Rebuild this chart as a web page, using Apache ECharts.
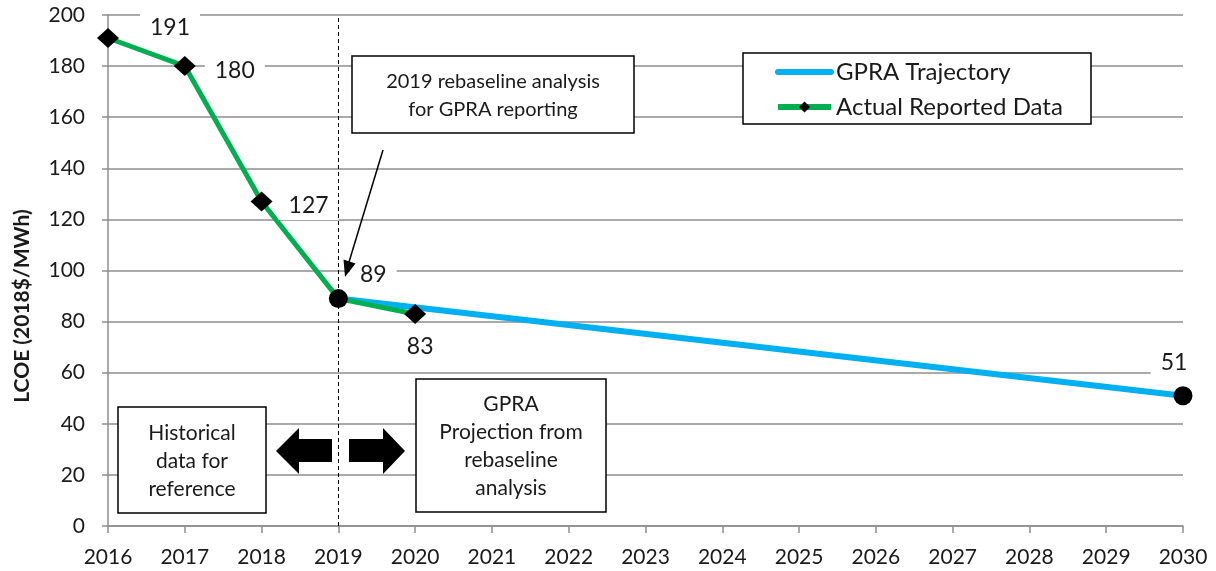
<!DOCTYPE html>
<html>
<head>
<meta charset="utf-8">
<script src="https://cdn.jsdelivr.net/npm/echarts@6/dist/echarts.min.js"></script>
<style>
    html, body { margin: 0; padding: 0; background: #fff; }
    #chart { width: 1216px; height: 571px; }
</style>
</head>
<body>
<div id="chart"></div>
<script>
// values
var actualYears = [2016, 2017, 2018, 2019, 2020];
var actualValues = [191, 180, 127, 89, 83];
var gpraYears = [2019, 2030];
var gpraValues = [89, 51];
var yTicks = [0, 20, 40, 60, 80, 100, 120, 140, 160, 180, 200];
var xTicks = [2016, 2017, 2018, 2019, 2020, 2021, 2022, 2023, 2024, 2025, 2026, 2027, 2028, 2029, 2030];
var rebaselineYear = 2019;

// where each value label sits next to its marker (pixels)
var actualLabelOffsets = [[62, -10], [50, 4], [47, 4], null, [5, 33]];
var gpraLabelOffsets = [[35, -24], [-9, -33]];

var FONT = 'Lato';
var TXT = '#1a1a1a';
var GRID = '#8e8e8e';

var myChart = echarts.init(document.getElementById('chart'));

function valueLabel(off) {
    return {
        show: true,
        position: 'inside',
        offset: off,
        fontFamily: FONT,
        fontSize: 23,
        color: TXT,
        backgroundColor: '#fff',
        padding: [3, 10, 3, 10],
        formatter: function (p) { return p.value[1]; }
    };
}

var actualData = actualYears.map(function (y, i) {
    var item = { value: [y, actualValues[i]] };
    if (y === rebaselineYear) {
        item.symbol = 'none';
    } else {
        item.label = valueLabel(actualLabelOffsets[i]);
    }
    return item;
});

var gpraData = gpraYears.map(function (y, i) {
    return { value: [y, gpraValues[i]] };
});

var circleData = gpraYears.map(function (y, i) {
    return { value: [y, gpraValues[i]], label: valueLabel(gpraLabelOffsets[i]) };
});

function box(x, y, w, h) {
    return {
        type: 'rect',
        shape: { x: x, y: y, width: w, height: h },
        style: { fill: '#fff', stroke: '#000', lineWidth: 1.5 },
        z: 100
    };
}

function boxText(x, y, txt, size) {
    return {
        type: 'text',
        x: x, y: y,
        style: {
            text: txt,
            fontFamily: FONT,
            fontSize: size,
            lineHeight: 28,
            fill: TXT,
            align: 'center',
            verticalAlign: 'middle'
        },
        z: 101
    };
}

var option = {
    animation: false,
    backgroundColor: '#fff',
    grid: { left: 108, right: 33, top: 15, bottom: 45 },
    xAxis: {
        type: 'value',
        min: xTicks[0],
        max: xTicks[xTicks.length - 1],
        interval: 1,
        axisLine: { show: true, lineStyle: { color: GRID, width: 1.5 } },
        axisTick: { show: true, length: 7, lineStyle: { color: GRID, width: 1.5 } },
        splitLine: { show: false },
        axisLabel: {
            margin: 21,
            fontFamily: FONT,
            fontSize: 21,
            color: TXT,
            formatter: function (v) { return String(v); }
        }
    },
    yAxis: {
        type: 'value',
        min: yTicks[0],
        max: yTicks[yTicks.length - 1],
        interval: 20,
        axisLine: { show: true, lineStyle: { color: GRID, width: 1.5 } },
        axisTick: { show: true, length: 6, lineStyle: { color: GRID, width: 1.5 } },
        splitLine: { show: true, lineStyle: { color: GRID, width: 1.5 } },
        axisLabel: {
            margin: 23,
            fontFamily: FONT,
            fontSize: 21,
            color: TXT
        }
    },
    legend: {
        left: 775,
        top: 58,
        padding: 0,
        orient: 'vertical',
        itemWidth: 53,
        itemHeight: 14,
        itemGap: 7,
        z: 102,
        textStyle: { fontFamily: FONT, fontSize: 24, color: TXT, lineHeight: 28 },
        data: [
            { name: 'GPRA Trajectory', itemStyle: { opacity: 0 }, lineStyle: { width: 6 } },
            { name: 'Actual Reported Data', lineStyle: { width: 6 } }
        ]
    },
    series: [
        {
            name: 'GPRA Trajectory',
            type: 'line',
            z: 2,
            symbol: 'none',
            lineStyle: { color: '#00b0f0', width: 6, cap: 'round' },
            itemStyle: { color: '#00b0f0' },
            data: gpraData,
            markLine: {
                silent: true,
                symbol: 'none',
                label: { show: false },
                lineStyle: { color: '#000', type: [4, 3], width: 1 },
                data: [{ xAxis: rebaselineYear }]
            }
        },
        {
            name: 'Actual Reported Data',
            type: 'line',
            z: 3,
            symbol: 'diamond',
            symbolSize: [22, 20],
            lineStyle: { color: '#00b050', width: 5 },
            itemStyle: { color: '#000' },
            data: actualData
        },
        {
            name: 'points',
            type: 'scatter',
            z: 4,
            symbol: 'circle',
            symbolSize: 19,
            itemStyle: { color: '#000', opacity: 1 },
            data: circleData
        }
    ],
    graphic: [
        // y axis title
        {
            type: 'text',
            x: 22, y: 306,
            rotation: Math.PI / 2,
            style: {
                text: 'LCOE (2018$/MWh)',
                fontFamily: FONT,
                fontWeight: 'bold',
                fontSize: 21,
                fill: TXT,
                align: 'center',
                verticalAlign: 'middle'
            }
        },
        // legend frame
        {
            type: 'rect',
            shape: { x: 743, y: 53, width: 348, height: 71 },
            style: { fill: '#fff', stroke: '#000', lineWidth: 1.5 },
            z: 90
        },
        box(352, 56, 282, 77),
        boxText(493, 96, '2019 rebaseline analysis\nfor GPRA reporting', 20),
        box(118, 407, 148, 106),
        boxText(192, 461, 'Historical\ndata for\nreference', 21),
        box(416, 379, 190, 133),
        boxText(511, 446, 'GPRA\nProjection from\nrebaseline\nanalysis', 21),
        // arrow to the 2019 point
        {
            type: 'line',
            shape: { x1: 383, y1: 150, x2: 349, y2: 262 },
            style: { stroke: '#000', lineWidth: 1.5 },
            z: 100
        },
        {
            type: 'polygon',
            shape: { points: [[345, 277], [355.5, 263.5], [343.5, 259.5]] },
            style: { fill: '#000' },
            z: 100
        },
        // block arrows
        {
            type: 'polygon',
            shape: { points: [[276, 451], [299, 428], [299, 439], [332, 439], [332, 462], [299, 462], [299, 474]] },
            style: { fill: '#000' },
            z: 100
        },
        {
            type: 'polygon',
            shape: { points: [[405, 451], [383, 428], [383, 439], [349, 439], [349, 462], [383, 462], [383, 474]] },
            style: { fill: '#000' },
            z: 100
        }
    ]
};

myChart.setOption(option);
</script>
</body>
</html>
